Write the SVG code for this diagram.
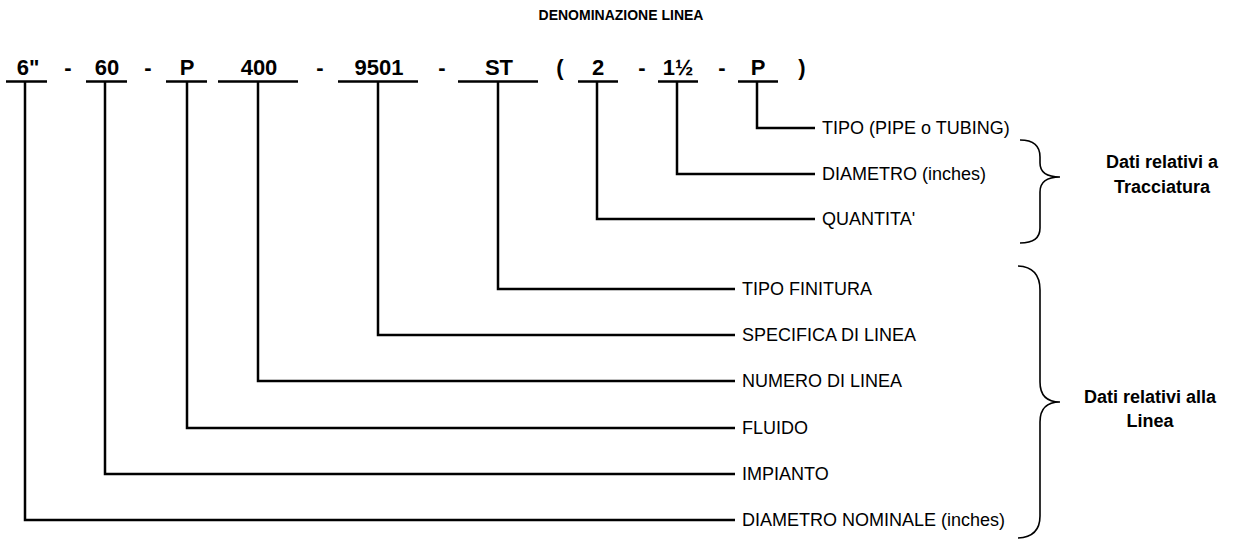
<svg xmlns="http://www.w3.org/2000/svg" width="1243" height="540" viewBox="0 0 1243 540">
<style>
.code{font-family:"Liberation Sans",Arial,sans-serif;font-weight:bold;font-size:22px;fill:#000;text-anchor:middle}
.title{font-family:"Liberation Sans",Arial,sans-serif;font-weight:bold;font-size:14px;fill:#000;text-anchor:middle}
.lbl{font-family:"Liberation Sans",Arial,sans-serif;font-size:18px;fill:#000}
.grp{font-family:"Liberation Sans",Arial,sans-serif;font-weight:bold;font-size:18px;fill:#000;text-anchor:middle}
.ul{stroke:#000;stroke-width:2.5;fill:none}
.conn{stroke:#000;stroke-width:2.5;fill:none;stroke-linejoin:miter}
.brace{stroke:#000;stroke-width:1.6;fill:none}
</style>
<rect width="1243" height="540" fill="#fff"/>
<text class="title" x="621" y="20">DENOMINAZIONE LINEA</text>

<g id="code-row">
<text class="code" x="68" y="75">-</text>
<text class="code" x="148" y="75">-</text>
<text class="code" x="320" y="75">-</text>
<text class="code" x="442" y="75">-</text>
<text class="code" x="560" y="75">(</text>
<text class="code" x="642" y="75">-</text>
<text class="code" x="722" y="75">-</text>
<text class="code" x="802" y="75">)</text>
</g>

<g id="n-diametro-nominale"><text class="code" x="28" y="75">6"</text><line class="ul" x1="6" y1="81.5" x2="47" y2="81.5"/><text class="lbl" x="742" y="526">DIAMETRO NOMINALE (inches)</text></g>
<g id="n-impianto"><text class="code" x="107" y="75">60</text><line class="ul" x1="86" y1="81.5" x2="127" y2="81.5"/><text class="lbl" x="742" y="480">IMPIANTO</text></g>
<g id="n-fluido"><text class="code" x="187" y="75">P</text><line class="ul" x1="166" y1="81.5" x2="207" y2="81.5"/><text class="lbl" x="742" y="434">FLUIDO</text></g>
<g id="n-numero"><text class="code" x="259" y="75">400</text><line class="ul" x1="218" y1="81.5" x2="298" y2="81.5"/><text class="lbl" x="742" y="387">NUMERO DI LINEA</text></g>
<g id="n-specifica"><text class="code" x="379" y="75">9501</text><line class="ul" x1="338" y1="81.5" x2="418" y2="81.5"/><text class="lbl" x="742" y="341">SPECIFICA DI LINEA</text></g>
<g id="n-finitura"><text class="code" x="499" y="75">ST</text><line class="ul" x1="458" y1="81.5" x2="538" y2="81.5"/><text class="lbl" x="742" y="295">TIPO FINITURA</text></g>
<g id="n-quantita"><text class="code" x="598" y="75">2</text><line class="ul" x1="578" y1="81.5" x2="618" y2="81.5"/><text class="lbl" x="822" y="225">QUANTITA'</text></g>
<g id="n-diametro"><text class="code" x="678" y="75">1½</text><line class="ul" x1="658" y1="81.5" x2="698" y2="81.5"/><text class="lbl" x="822" y="180">DIAMETRO (inches)</text></g>
<g id="n-tipo"><text class="code" x="758" y="75">P</text><line class="ul" x1="738" y1="81.5" x2="778" y2="81.5"/><text class="lbl" x="822" y="134">TIPO (PIPE o TUBING)</text></g>

<g id="connectors">
<polyline class="conn" points="25,82 25,520 735,520"/>
<polyline class="conn" points="105,82 105,474 735,474"/>
<polyline class="conn" points="187,82 187,428 735,428"/>
<polyline class="conn" points="258,82 258,381 735,381"/>
<polyline class="conn" points="378,82 378,335 735,335"/>
<polyline class="conn" points="498,82 498,289 735,289"/>
<polyline class="conn" points="597,82 597,219 815,219"/>
<polyline class="conn" points="677,82 677,174 815,174"/>
<polyline class="conn" points="757,82 757,128 815,128"/>
</g>

<g id="g-tracciatura">
<path class="brace" d="M1020,140 Q1040,140 1040,157 L1040,163 Q1040,177 1060,177 Q1040,177 1040,192 L1040,228 Q1040,243 1020,243"/>
<text class="grp" x="1162" y="168">Dati relativi a</text>
<text class="grp" x="1162" y="193">Tracciatura</text>
</g>
<g id="g-linea">
<path class="brace" d="M1018,266 Q1040,267 1040,290 L1040,382 Q1040,402 1060,402 Q1040,402 1040,422 L1040,516 Q1040,537 1018,538"/>
<text class="grp" x="1150" y="403">Dati relativi alla</text>
<text class="grp" x="1150" y="427">Linea</text>
</g>
</svg>
